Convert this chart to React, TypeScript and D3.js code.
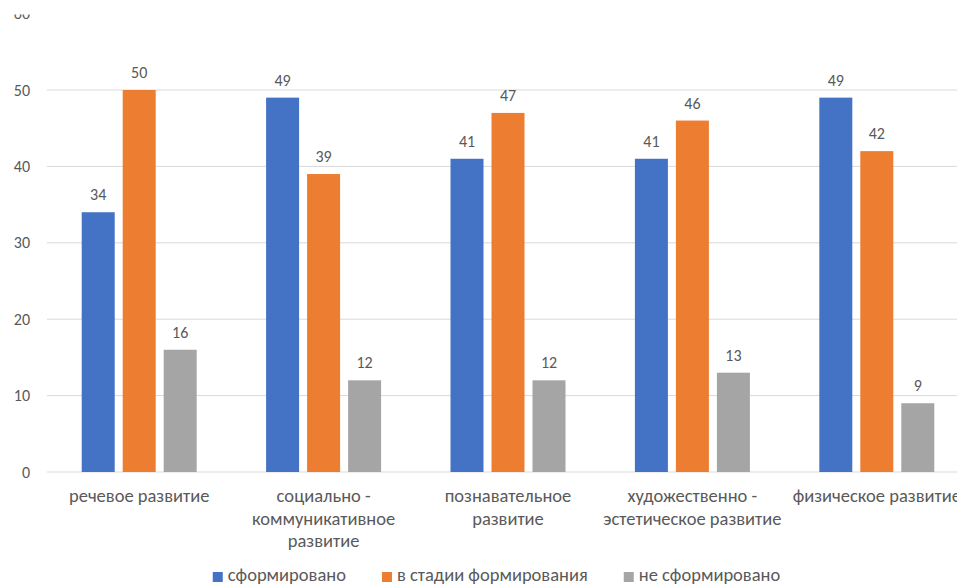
import React, { useEffect, useRef } from "react";
import * as d3 from "d3";

const categories: string[][] = [
  ["речевое развитие"],
  ["социально -", "коммуникативное", "развитие"],
  ["познавательное", "развитие"],
  ["художественно -", "эстетическое развитие"],
  ["физическое развитие"],
];
const seriesNames = ["сформировано", "в стадии формирования", "не сформировано"];
const seriesColors = ["#4472C4", "#ED7D31", "#A5A5A5"];
const formed = [34, 49, 41, 41, 49];
const inProgress = [50, 39, 47, 46, 42];
const notFormed = [16, 12, 12, 13, 9];
const yTicks = [0, 10, 20, 30, 40, 50, 60];

const W = 957;
const H = 584;
const FONT = "Calibri, Carlito, Lato, sans-serif";
const TEXT = "#595959";
const NUM_SIZE = 16;
const TXT_SIZE = 18.5;

export default function App() {
  const ref = useRef<SVGSVGElement>(null);
  useEffect(() => {
    const svg = d3.select(ref.current!);
    svg.selectAll("*").remove();
    const series = [formed, inProgress, notFormed];
    const idx = categories.map((_, i) => i);

    svg.append("defs").append("clipPath").attr("id", "topclip")
      .append("rect").attr("x", 0).attr("y", 14.5).attr("width", W).attr("height", H);
    const g = svg.append("g").attr("clip-path", "url(#topclip)");

    const x = d3.scaleBand<number>().domain(idx).range([47, 969]).padding(0);
    const y = d3.scaleLinear().domain([0, 60]).range([472, 13.6]);
    const groupW = 115;
    const sub = d3.scaleBand<number>().domain([0, 1, 2]).range([0, groupW]).paddingInner(0.195).paddingOuter(0);

    g.selectAll("line.grid").data(yTicks).enter().append("line")
      .attr("x1", 47).attr("x2", 969)
      .attr("y1", (d) => y(d)).attr("y2", (d) => y(d))
      .attr("stroke", "#D9D9D9").attr("stroke-width", 1);

    g.selectAll("text.ytick").data(yTicks).enter().append("text")
      .attr("x", 30).attr("y", (d) => y(d)).attr("dy", "0.35em")
      .attr("text-anchor", "end").attr("font-family", FONT).attr("font-size", NUM_SIZE)
      .attr("fill", TEXT).text((d) => d);

    series.forEach((vals, s) => {
      const gx = (i: number) => x(i)! + (x.bandwidth() - groupW) / 2 + sub(s)!;
      g.selectAll(`rect.s${s}`).data(vals).enter().append("rect")
        .attr("x", (_, i) => gx(i)).attr("width", sub.bandwidth())
        .attr("y", (d) => y(d)).attr("height", (d) => y(0) - y(d))
        .attr("fill", seriesColors[s]);
      g.selectAll(`text.l${s}`).data(vals).enter().append("text")
        .attr("x", (_, i) => gx(i) + sub.bandwidth() / 2)
        .attr("y", (d) => y(d) - 12)
        .attr("text-anchor", "middle").attr("font-family", FONT).attr("font-size", NUM_SIZE)
        .attr("fill", TEXT).text((d) => d);
    });

    categories.forEach((lines, i) => {
      const t = g.append("text").attr("text-anchor", "middle").attr("font-family", FONT)
        .attr("font-size", TXT_SIZE).attr("fill", TEXT);
      lines.forEach((ln, k) => {
        t.append("tspan").attr("x", x(i)! + x.bandwidth() / 2).attr("y", 502 + k * 22.5).text(ln);
      });
    });

    const lg = g.append("g");
    let cx = 0;
    seriesNames.forEach((name, s) => {
      const it = lg.append("g").attr("transform", `translate(${cx},0)`);
      it.append("rect").attr("x", 0).attr("y", 572).attr("width", 10).attr("height", 10).attr("fill", seriesColors[s]);
      const tx = it.append("text").attr("x", 15).attr("y", 581).attr("font-family", FONT)
        .attr("font-size", TXT_SIZE).attr("fill", TEXT).text(name);
      const w = (tx.node() as SVGTextElement).getComputedTextLength();
      cx += 15 + w + 36;
    });
    const total = cx - 36;
    lg.attr("transform", `translate(${496.5 - total / 2},0)`);
  }, []);

  return (
    <svg ref={ref} width={W} height={H} style={{ position: "absolute", left: 0, top: 0, background: "#fff" }} />
  );
}
